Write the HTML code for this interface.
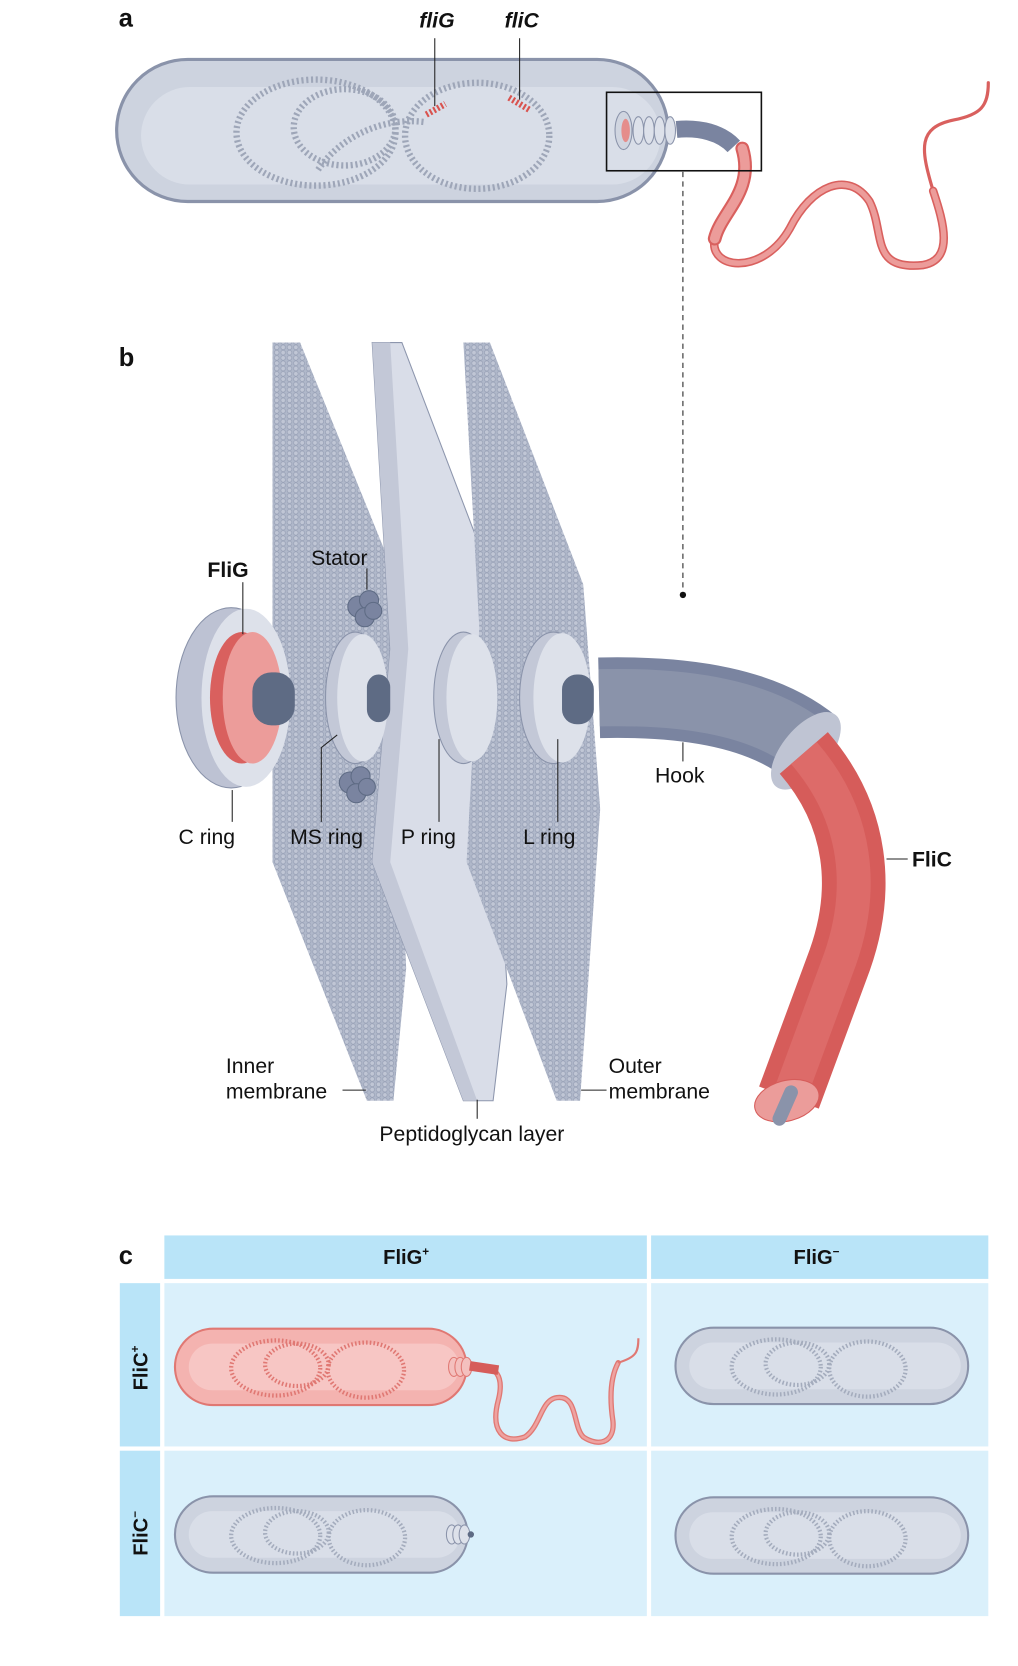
<!DOCTYPE html>
<html><head><meta charset="utf-8"><style>
html,body{margin:0;padding:0;background:#fff}
svg{display:block}
text{font-family:"Liberation Sans",sans-serif;fill:#111}
</style></head><body>
<svg width="1018" height="1666" viewBox="0 0 960 1571" xmlns="http://www.w3.org/2000/svg">
<defs>
<pattern id="mem" width="6" height="5" patternUnits="userSpaceOnUse">
<rect width="6" height="5" fill="#b0b8ca"/>
<circle cx="3" cy="2.5" r="2.2" fill="#c0c6d5" stroke="#949db3" stroke-width="0.6"/>
</pattern>
</defs>

<!-- Panel a -->
<text x="112" y="25" font-size="24" font-weight="bold">a</text>
<text x="412" y="26" font-size="20" font-weight="bold" font-style="italic" text-anchor="middle">fliG</text>
<text x="492" y="26" font-size="20" font-weight="bold" font-style="italic" text-anchor="middle">fliC</text>
<rect x="110" y="56" width="520" height="134" rx="67" fill="#cdd3df" stroke="#8a93aa" stroke-width="3"/>
<rect x="133" y="82" width="490" height="92" rx="46" fill="#d9dee8"/>
<g fill="none" stroke="#9ea6b8" stroke-width="6" stroke-dasharray="2 2.5">
<ellipse cx="298" cy="125" rx="75" ry="50"/>
<ellipse cx="325" cy="120" rx="48" ry="36"/>
<ellipse cx="450" cy="128" rx="68" ry="50"/>
<path d="M300 160 C320 130 360 110 400 115"/>
</g>
<path d="M402 108 L420 98" stroke="#d9534f" stroke-width="6" stroke-dasharray="2 2"/>
<path d="M480 92 L500 104" stroke="#d9534f" stroke-width="6" stroke-dasharray="2 2"/>
<line x1="410" y1="36" x2="410" y2="100" stroke="#222" stroke-width="1"/>
<line x1="490" y1="36" x2="490" y2="94" stroke="#222" stroke-width="1"/>
<!-- motor small -->
<ellipse cx="588" cy="123" rx="8" ry="18" fill="#d0d5e0" stroke="#8a93aa"/>
<ellipse cx="590" cy="123" rx="4" ry="11" fill="#e58d8b"/>
<g fill="#dde1ea" stroke="#8a93aa" stroke-width="1">
<ellipse cx="602" cy="123" rx="5" ry="13"/><ellipse cx="612" cy="123" rx="5" ry="13"/><ellipse cx="622" cy="123" rx="5" ry="13"/><ellipse cx="632" cy="123" rx="5" ry="13"/>
</g>
<path d="M638 122 C660 120 680 125 692 138" stroke="#7a84a0" stroke-width="16" fill="none"/>
<path d="M880 180 C868 140 865 120 900 113 C925 108 932 100 932 78" fill="none" stroke="#d9605e" stroke-width="3" stroke-linecap="round"/>
<path d="M700 140 C712 180 680 200 674 225 C668 255 720 260 745 215 C765 175 800 160 820 190 C835 220 820 255 870 250 C900 245 890 210 880 180" fill="none" stroke="#d9605e" stroke-width="8" stroke-linecap="round"/>
<path d="M700 140 C712 180 680 200 674 225 C668 255 720 260 745 215 C765 175 800 160 820 190 C835 220 820 255 870 250 C900 245 890 210 880 180" fill="none" stroke="#ec9c9a" stroke-width="5" stroke-linecap="round"/>
<path d="M700 140 C712 180 680 200 674 225" fill="none" stroke="#d9605e" stroke-width="13" stroke-linecap="round"/>
<path d="M700 140 C712 180 680 200 674 225" fill="none" stroke="#ec9c9a" stroke-width="9" stroke-linecap="round"/>
<rect x="572" y="87" width="146" height="74" fill="none" stroke="#111" stroke-width="1.5"/>
<line x1="644" y1="162" x2="644" y2="558" stroke="#222" stroke-width="1" stroke-dasharray="5 4"/>
<circle cx="644" cy="561" r="3" fill="#111"/>

<!-- Panel b -->
<text x="112" y="345" font-size="24" font-weight="bold">b</text>
<polygon points="257,323 283,323 368,532 383,913 371,1038 346,1038 257,813" fill="url(#mem)"/>
<polygon points="351,323 379,323 453,517 478,928 465,1038 437,1038 351,813 368,612" fill="#d9dde8" stroke="#8d96ad" stroke-width="1"/>
<polygon points="351,323 368,323 385,612 368,813 450,1038 437,1038 351,813 368,612" fill="#c3c8d7"/>
<polygon points="437,323 462,323 550,551 566,763 547,1038 525,1038 440,813 452,592" fill="url(#mem)"/>

<!-- C ring -->
<ellipse cx="218" cy="658" rx="52" ry="85" fill="#bdc2d3" stroke="#8a93aa"/>
<ellipse cx="232" cy="658" rx="42" ry="84" fill="#dde1ea"/>
<ellipse cx="228" cy="658" rx="30" ry="62" fill="#d9605e"/>
<ellipse cx="238" cy="658" rx="28" ry="62" fill="#ec9c9a"/>
<rect x="238" y="634" width="40" height="50" rx="18" fill="#5e6b84"/>
<!-- MS ring -->
<ellipse cx="335" cy="658" rx="28" ry="62" fill="#c3c8d7" stroke="#8a93aa"/>
<ellipse cx="342" cy="658" rx="24" ry="60" fill="#dde1ea"/>
<rect x="346" y="636" width="22" height="45" rx="12" fill="#5e6b84"/>
<!-- stators -->
<g fill="#7a84a0" stroke="#5e6b84">
<circle cx="338" cy="572" r="10"/><circle cx="348" cy="566" r="9"/><circle cx="344" cy="582" r="9"/><circle cx="352" cy="576" r="8"/>
<circle cx="330" cy="738" r="10"/><circle cx="340" cy="732" r="9"/><circle cx="336" cy="748" r="9"/><circle cx="346" cy="742" r="8"/>
</g>
<!-- P ring -->
<ellipse cx="437" cy="658" rx="28" ry="62" fill="#c3c8d7" stroke="#8a93aa"/>
<ellipse cx="445" cy="658" rx="24" ry="60" fill="#dde1ea"/>
<!-- L ring -->
<ellipse cx="522" cy="658" rx="32" ry="62" fill="#c3c8d7" stroke="#8a93aa"/>
<ellipse cx="530" cy="658" rx="27" ry="61" fill="#dde1ea"/>
<rect x="530" y="636" width="30" height="47" rx="14" fill="#5e6b84"/>
<!-- Hook -->
<path d="M565 658 C650 656 720 668 765 705" fill="none" stroke="#7a84a0" stroke-width="76"/>
<path d="M565 658 C650 656 720 668 765 705" fill="none" stroke="#8a93aa" stroke-width="54"/>
<ellipse cx="760" cy="708" rx="22" ry="44" transform="rotate(40 760 708)" fill="#bfc4d3"/>
<!-- FliC -->
<path d="M758 710 C810 770 815 840 792 905 L744 1035" fill="none" stroke="#d65c5a" stroke-width="60"/>
<path d="M758 710 C810 770 815 840 792 905 L744 1035" fill="none" stroke="#dd6b69" stroke-width="32"/>
<ellipse cx="742" cy="1038" rx="31" ry="19" transform="rotate(-15 742 1038)" fill="#eb9c9a" stroke="#d65c5a"/>
<path d="M746 1030 L735 1055" stroke="#8a93aa" stroke-width="13" stroke-linecap="round"/>

<g stroke="#222" stroke-width="1" fill="none">
<line x1="229" y1="549" x2="229" y2="598"/>
<line x1="346" y1="536" x2="346" y2="556"/>
<line x1="219" y1="745" x2="219" y2="775"/>
<polyline points="303,775 303,705 318,693"/>
<line x1="414" y1="697" x2="414" y2="775"/>
<line x1="526" y1="697" x2="526" y2="775"/>
<line x1="644" y1="700" x2="644" y2="718"/>
<line x1="836" y1="810" x2="856" y2="810"/>
<line x1="323" y1="1028" x2="345" y2="1028"/>
<line x1="548" y1="1028" x2="572" y2="1028"/>
<line x1="450" y1="1037" x2="450" y2="1055"/>
</g>
<g font-size="20">
<text x="215" y="544" font-weight="bold" text-anchor="middle">FliG</text>
<text x="320" y="533" text-anchor="middle">Stator</text>
<text x="195" y="796" text-anchor="middle">C ring</text>
<text x="308" y="796" text-anchor="middle">MS ring</text>
<text x="404" y="796" text-anchor="middle">P ring</text>
<text x="518" y="796" text-anchor="middle">L ring</text>
<text x="641" y="738" text-anchor="middle">Hook</text>
<text x="860" y="817" font-weight="bold">FliC</text>
<text x="213" y="1012">Inner</text>
<text x="213" y="1036">membrane</text>
<text x="574" y="1012">Outer</text>
<text x="574" y="1036">membrane</text>
<text x="445" y="1076" text-anchor="middle">Peptidoglycan layer</text>
</g>

<!-- Panel c -->
<text x="112" y="1192" font-size="24" font-weight="bold">c</text>
<rect x="155" y="1165" width="455" height="41" fill="#b9e4f8"/>
<rect x="614" y="1165" width="318" height="41" fill="#b9e4f8"/>
<rect x="113" y="1210" width="38" height="154" fill="#b9e4f8"/>
<rect x="113" y="1368" width="38" height="156" fill="#b9e4f8"/>
<rect x="155" y="1210" width="455" height="154" fill="#daf0fb"/>
<rect x="614" y="1210" width="318" height="154" fill="#daf0fb"/>
<rect x="155" y="1368" width="455" height="156" fill="#daf0fb"/>
<rect x="614" y="1368" width="318" height="156" fill="#daf0fb"/>
<text x="383" y="1192" font-size="19" font-weight="bold" text-anchor="middle">FliG<tspan font-size="11" dy="-8">+</tspan></text>
<text x="770" y="1192" font-size="19" font-weight="bold" text-anchor="middle">FliG<tspan font-size="11" dy="-8">−</tspan></text>
<text transform="translate(139 1290) rotate(-90)" font-size="19" font-weight="bold" text-anchor="middle">FliC<tspan font-size="11" dy="-8">+</tspan></text>
<text transform="translate(139 1446) rotate(-90)" font-size="19" font-weight="bold" text-anchor="middle">FliC<tspan font-size="11" dy="-8">−</tspan></text>

<!-- pink cell -->
<path d="M445 1290 C470 1285 475 1300 470 1320 C462 1350 475 1362 495 1355 C510 1345 510 1320 525 1318 C545 1315 540 1345 550 1355 C565 1365 580 1360 578 1340 C575 1320 575 1300 583 1285" fill="none" stroke="#e07873" stroke-width="5" stroke-linecap="round"/>
<path d="M445 1290 C470 1285 475 1300 470 1320 C462 1350 475 1362 495 1355 C510 1345 510 1320 525 1318 C545 1315 540 1345 550 1355 C565 1365 580 1360 578 1340 C575 1320 575 1300 583 1285" fill="none" stroke="#eea3a1" stroke-width="2.5"/>
<path d="M583 1285 C600 1280 602 1275 602 1262" fill="none" stroke="#e07873" stroke-width="2"/>
<rect x="165" y="1253" width="275" height="72" rx="36" fill="#f4b3b0" stroke="#e07873" stroke-width="2"/>
<rect x="178" y="1267" width="255" height="44" rx="22" fill="#f7c6c4"/>
<g fill="none" stroke="#e07873" stroke-width="4" stroke-dasharray="1.5 2">
<ellipse cx="260" cy="1290" rx="42" ry="26"/><ellipse cx="280" cy="1287" rx="30" ry="20"/><ellipse cx="345" cy="1292" rx="36" ry="26"/>
</g>
<g fill="#f4c0be" stroke="#e07873"><ellipse cx="428" cy="1289" rx="5" ry="9"/><ellipse cx="434" cy="1289" rx="5" ry="9"/><ellipse cx="440" cy="1289" rx="5" ry="9"/></g>
<path d="M443 1288 L470 1292" stroke="#d65c5a" stroke-width="9"/>

<!-- gray cells -->
<g id="gc">
<rect x="637" y="1252" width="276" height="72" rx="36" fill="#cdd3df" stroke="#8a93aa" stroke-width="2"/>
<rect x="650" y="1266" width="256" height="44" rx="22" fill="#d9dee8"/>
<g fill="none" stroke="#a4acbd" stroke-width="4" stroke-dasharray="1.5 2">
<ellipse cx="732" cy="1289" rx="42" ry="26"/><ellipse cx="752" cy="1286" rx="30" ry="20"/><ellipse cx="818" cy="1291" rx="36" ry="26"/>
</g>
</g>
<use href="#gc" transform="translate(0 160)"/>
<use href="#gc" transform="translate(-472 159)"/>
<g fill="#dde1ea" stroke="#8a93aa"><ellipse cx="426" cy="1447" rx="5" ry="9"/><ellipse cx="432" cy="1447" rx="5" ry="9"/><ellipse cx="438" cy="1447" rx="5" ry="9"/></g>
<circle cx="444" cy="1447" r="3" fill="#5e6b84"/>
</svg>
</body></html>
